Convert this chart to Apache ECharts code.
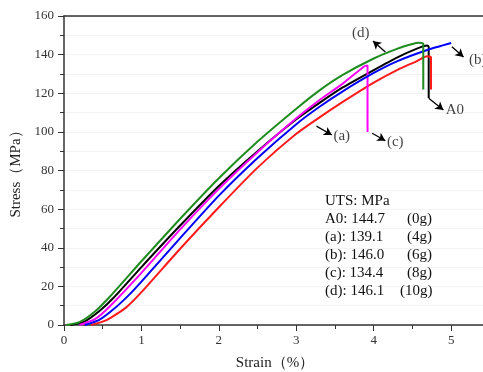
<!DOCTYPE html>
<html>
<head>
<meta charset="utf-8">
<script src="https://cdn.jsdelivr.net/npm/echarts@6/dist/echarts.min.js"></script>
<style>
  html, body { margin: 0; padding: 0; background: #fff; }
  #chart { width: 483px; height: 372px; }
</style>
</head>
<body>
<div id="chart"></div>
<script>
  // curves: [strain %, stress MPa]
  const curveA0 = [[0.08,0],[0.25,1.5],[0.45,7],[0.65,14.5],[1.0,30],[1.5,51.5],[2.0,72],[2.5,90],[3.0,106.5],[3.3,115],[3.6,123],[4.0,132],[4.3,138.5],[4.55,143],[4.69,144.7],[4.71,144],[4.71,117.5]];
  const curveA = [[0.35,0],[0.55,2.5],[0.8,9],[1.0,17],[1.5,39.5],[2.0,61],[2.5,81.5],[3.0,99],[3.3,107.5],[3.6,115.5],[4.0,125.5],[4.3,132],[4.55,136.5],[4.69,139.1],[4.74,138.5],[4.74,122]];
  const curveB = [[0.27,0],[0.45,2.5],[0.65,8.5],[0.85,16],[1.0,22.5],[1.5,45],[2.0,67],[2.5,86.5],[3.0,104],[3.3,113],[3.6,121],[4.0,130.5],[4.3,136.5],[4.7,142.5],[5.0,146]];
  const curveC = [[0.2,0],[0.4,3],[0.6,10],[1.0,27],[1.5,49.5],[2.0,70.5],[2.5,89.5],[3.0,107],[3.3,116.5],[3.6,125],[3.88,134],[3.92,134.4],[3.92,100]];
  const curveD = [[0.03,0],[0.2,1.5],[0.4,7],[0.6,15],[1.0,33],[1.5,55],[2.0,76],[2.5,95],[3.0,112],[3.3,121.5],[3.6,129.5],[4.0,138],[4.3,143],[4.5,145.5],[4.58,146.1],[4.64,145.5],[4.64,122]];

  const yTicks = [0, 20, 40, 60, 80, 100, 120, 140, 160];
  const xTicks = [0, 1, 2, 3, 4, 5];

  // annotation arrows: [from, to] and their labels
  const arrowLines = [
    [[4.15,141.4],[3.99,147.1]],
    [[5.01,144.1],[5.16,138.8]],
    [[4.71,117.4],[4.90,111.3]],
    [[3.26,103.0],[3.46,98.4]],
    [[3.98,99.3],[4.15,95.4]]
  ];
  const arrowLabels = [[3.72,151.2,'(d)'],[5.23,137.0,'(b)'],[4.93,111.3,'A0'],[3.48,97.6,'(a)'],[4.17,94.8,'(c)']];

  const utsNames = ['A0', '(a)', '(b)', '(c)', '(d)'];
  const utsValues = ['144.7', '139.1', '146.0', '134.4', '146.1'];
  const utsLoads = ['(0g)', '(4g)', '(6g)', '(8g)', '(10g)'];

  const serif = '"Liberation Serif", "DejaVu Serif", serif';

  function curve(name, data, color) {
    return {
      name: name, type: 'line', data: data, color: color,
      showSymbol: false, smooth: 0.2,
      lineStyle: { width: 2, color: color }
    };
  }

  const texts = [{
    type: 'text', left: 325, top: 194, z: 100,
    style: { text: 'UTS: MPa', font: '15px ' + serif, fill: '#111' }
  }];
  utsNames.forEach((n, i) => {
    texts.push({ type: 'text', left: 325, top: 212 + i * 18, z: 100,
      style: { text: n + ': ' + utsValues[i], font: '15px ' + serif, fill: '#111' } });
    texts.push({ type: 'text', left: i === 4 ? 400 : 407, top: 212 + i * 18, z: 100,
      style: { text: utsLoads[i], font: '15px ' + serif, fill: '#111' } });
  });

  const chart = echarts.init(document.getElementById('chart'));
  chart.setOption({
    animation: false,
    backgroundColor: '#fff',
    textStyle: { fontFamily: serif },
    grid: { left: 64, right: -3, top: 16, bottom: 47, outerBoundsMode: 'none' },
    xAxis: [{
      type: 'value', min: 0, max: 5.45, interval: 1,
      name: 'Strain（%）', nameLocation: 'middle', nameGap: 31,
      nameTextStyle: { fontFamily: serif, fontSize: 15, color: '#222' },
      axisLine: { onZero: false, lineStyle: { color: '#333', width: 1.5 } },
      axisTick: { length: 6, lineStyle: { color: '#333' } },
      minorTick: { show: true, splitNumber: 2, length: 4, lineStyle: { color: '#333' } },
      axisLabel: { fontFamily: serif, fontSize: 13, color: '#333', margin: 9,
        formatter: v => xTicks.indexOf(v) >= 0 ? String(v) : '' },
      splitLine: { show: false }
    }, {
      type: 'value', position: 'top', min: 0, max: 5.45,
      axisLine: { show: true, onZero: false, lineStyle: { color: '#333', width: 1.5 } },
      axisTick: { show: false }, axisLabel: { show: false }, splitLine: { show: false }
    }],
    yAxis: {
      type: 'value', min: 0, max: 160, interval: 20,
      name: 'Stress（MPa）', nameLocation: 'middle', nameGap: 31,
      nameTextStyle: { fontFamily: serif, fontSize: 15, color: '#222' },
      axisLine: { show: true, lineStyle: { color: '#333', width: 1.5 } },
      axisTick: { show: true, length: 6, lineStyle: { color: '#333' } },
      minorTick: { show: true, splitNumber: 2, length: 4, lineStyle: { color: '#333' } },
      axisLabel: { fontFamily: serif, fontSize: 13, color: '#333', margin: 10,
        formatter: v => yTicks.indexOf(v) >= 0 ? String(v) : '' },
      splitLine: { show: true, lineStyle: { color: '#f3f3f3' } },
      minorSplitLine: { show: true, lineStyle: { color: '#f3f3f3' } }
    },
    series: [
      curve('A0', curveA0, '#000000'),
      curve('(a)', curveA, '#ff1a1a'),
      curve('(c)', curveC, '#ff00ff'),
      curve('(b)', curveB, '#0000ff'),
      curve('(d)', curveD, '#1e8c1e'),
      {
        name: 'arrows', type: 'line', data: [], silent: true,
        markLine: {
          silent: true, symbol: ['none', 'arrow'], symbolSize: [7, 8],
          lineStyle: { color: '#000', width: 1.3, type: 'solid' },
          label: { show: false },
          data: arrowLines.map(p => [{ coord: p[0] }, { coord: p[1] }])
        }
      },
      {
        name: 'labels', type: 'scatter', symbolSize: 0, silent: true,
        data: arrowLabels,
        label: { show: true, position: 'right', distance: 0,
          formatter: p => p.value[2], fontFamily: serif, fontSize: 15, color: '#111' }
      }
    ],
    graphic: texts
  });
</script>
</body>
</html>
